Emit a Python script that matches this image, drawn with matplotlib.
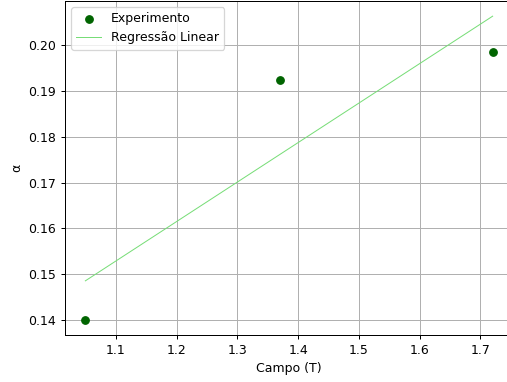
import numpy as np
import matplotlib
matplotlib.use("Agg")
import matplotlib.pyplot as plt

campo = [1.05, 1.37, 1.72]
alpha = [0.1401, 0.1924, 0.1985]


def main():
	# rendered at 90 dpi so text and marks come out at the reference's scale
	dpi = 90
	fig = plt.figure(figsize=(507/dpi, 382/dpi), dpi=dpi)
	ax = fig.add_axes([65/507, 47/382, 448/507, 334/382])
	a, b = np.polyfit(campo, alpha, 1)
	xs = np.array([min(campo), max(campo)])
	ax.scatter(campo, alpha, color='darkgreen', label='Experimento', zorder=3)
	ax.plot(xs, a*xs + b, color='#77dd77', lw=0.8, label='Regressão Linear')
	ax.grid(True)
	ax.set_xlabel('Campo (T)')
	ax.set_ylabel('α')
	ax.legend(loc='upper left')
	fig.savefig('out.png', dpi=dpi)
	plt.close(fig)


if __name__ == "__main__":
	main()
